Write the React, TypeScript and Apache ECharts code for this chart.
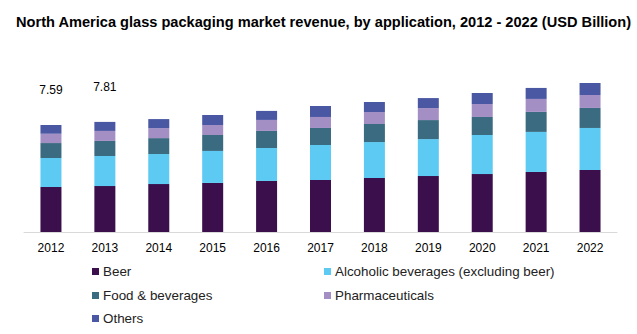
import React, { useEffect, useRef } from "react";
import * as echarts from "echarts";

const years = ["2012", "2013", "2014", "2015", "2016", "2017", "2018", "2019", "2020", "2021", "2022"];
const beer = [3.19, 3.26, 3.40, 3.48, 3.62, 3.69, 3.83, 3.97, 4.11, 4.26, 4.40];
const alcoholic = [2.06, 2.13, 2.13, 2.27, 2.34, 2.48, 2.55, 2.62, 2.77, 2.84, 2.98];
const food = [1.06, 1.07, 1.13, 1.13, 1.21, 1.21, 1.28, 1.35, 1.28, 1.42, 1.42];
const pharma = [0.66, 0.71, 0.71, 0.71, 0.78, 0.78, 0.85, 0.85, 0.92, 0.92, 0.92];
const others = [0.62, 0.64, 0.64, 0.71, 0.64, 0.78, 0.71, 0.71, 0.78, 0.78, 0.85];
const totalLabels = ["7.59", "7.81"];

const names = ["Beer", "Alcoholic beverages (excluding beer)", "Food & beverages", "Pharmaceuticals", "Others"];
const colors = ["#3a0f4c", "#5ccaf2", "#3b6b80", "#a38fc4", "#4a57a3"];
const seriesData = [beer, alcoholic, food, pharma, others];

export default function App() {
  const ref = useRef<HTMLDivElement>(null);
  useEffect(() => {
    if (!ref.current) return;
    const chart = echarts.init(ref.current, undefined, { renderer: "svg" });
    const legendPos = [
      { left: 92, top: 265 },
      { left: 324, top: 265 },
      { left: 92, top: 289 },
      { left: 324, top: 289 },
      { left: 92, top: 312 },
    ];
    chart.setOption({
      animation: false,
      textStyle: { fontFamily: "Liberation Sans, Arial, sans-serif" },
      title: {
        text: "North America glass packaging market revenue, by application, 2012 - 2022 (USD Billion)",
        left: 11,
        top: 9,
        textStyle: { fontSize: 14.6, fontWeight: "bold", color: "#000", fontFamily: "Liberation Sans, Arial, sans-serif" },
      },
      legend: names.map((n, i) => ({
        data: [n],
        left: legendPos[i].left,
        top: legendPos[i].top,
        itemWidth: 7,
        itemHeight: 7,
        itemGap: 4,
        icon: "rect",
        padding: 0,
        textStyle: { fontSize: 13.4, color: "#222", padding: [0, 0, 0, -1] },
      })),
      grid: { left: 24, right: 20, top: 40, bottom: 102, containLabel: false },
      xAxis: {
        type: "category",
        data: years,
        axisLine: { lineStyle: { color: "#d9d9d9", width: 1 } },
        axisTick: { show: false },
        axisLabel: { color: "#000", fontSize: 12, margin: 10 },
      },
      yAxis: {
        type: "value",
        min: 0,
        max: 13.62,
        show: false,
        splitLine: { show: false },
      },
      series: seriesData.map((d, i) => ({
        name: names[i],
        type: "bar",
        stack: "total",
        barWidth: 21,
        itemStyle: { color: colors[i] },
        data: d.map((v, j) =>
          i === 4 && j < totalLabels.length
            ? {
                value: v,
                label: {
                  show: true,
                  position: "top",
                  distance: 29,
                  formatter: totalLabels[j],
                  color: "#000",
                  fontSize: 12,
                },
              }
            : v
        ),
      })),
    });
    return () => chart.dispose();
  }, []);
  return <div ref={ref} style={{ position: "absolute", left: 0, top: 0, width: 637, height: 334 }} />;
}
